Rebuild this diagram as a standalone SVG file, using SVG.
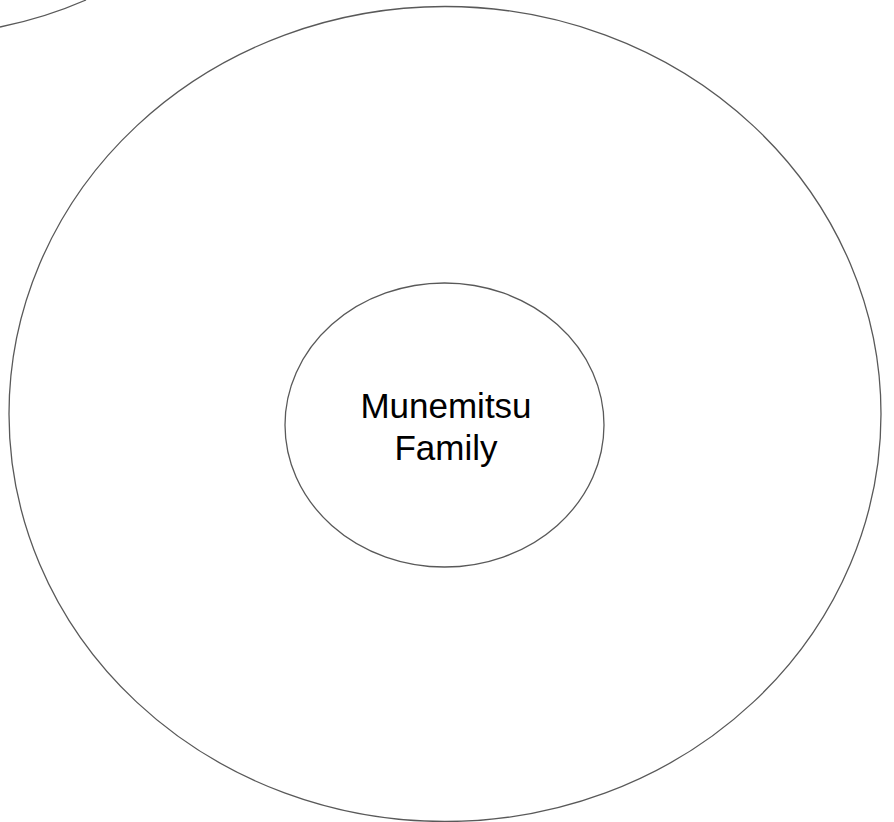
<svg xmlns="http://www.w3.org/2000/svg" width="894" height="822" viewBox="0 0 894 822">
<style>
.shape{fill:none;stroke:#595959;stroke-width:1.3}
.lbl{font-family:"Liberation Sans",Arial,sans-serif;font-size:35px;fill:#000;text-anchor:middle}
</style>
<rect width="894" height="822" fill="#fff"/>
<g id="corner-arc"><path class="shape" d="M0,27 Q45,18 86,0"/></g>
<g id="outer-circle"><ellipse class="shape" cx="445" cy="414" rx="436" ry="407.5"/></g>
<g id="munemitsu-family">
<ellipse class="shape" cx="444.5" cy="425" rx="159.5" ry="142"/>
<text class="lbl" x="446" y="418">Munemitsu</text>
<text class="lbl" x="446" y="460">Family</text>
</g>
<g id="connectors"></g>
</svg>
